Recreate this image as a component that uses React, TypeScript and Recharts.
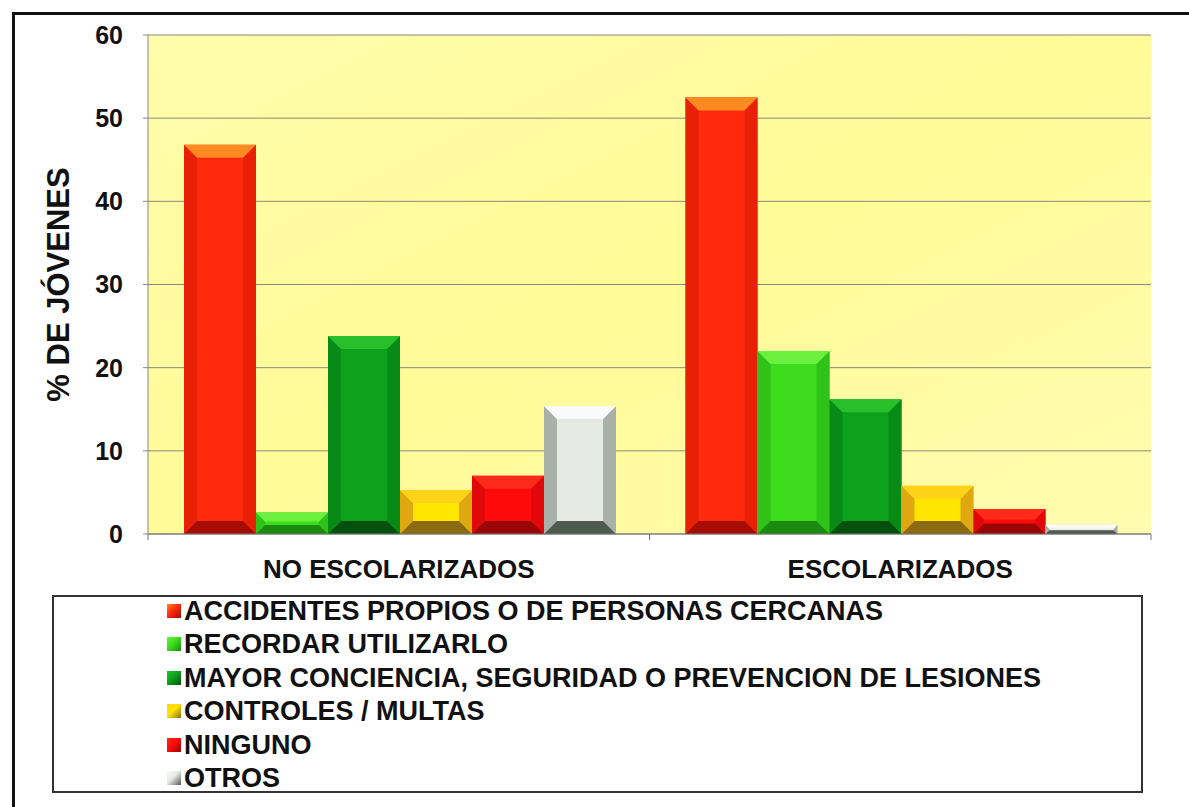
import React from "react";
import { BarChart, Bar, XAxis, YAxis, CartesianGrid } from "recharts";

const categories = ["NO ESCOLARIZADOS", "ESCOLARIZADOS"];
const accidentes = [46.8, 52.5];
const recordar = [2.6, 22.0];
const mayor = [23.8, 16.2];
const controles = [5.3, 5.8];
const ninguno = [7.0, 3.0];
const otros = [15.4, 1.1];
const yTicks = [0, 10, 20, 30, 40, 50, 60];

// base / top bevel / bottom bevel / sides
const series = [
  { key: "accidentes", name: "ACCIDENTES PROPIOS O DE PERSONAS CERCANAS", values: accidentes, base: "#ff2a0c", top: "#ff8a22", bottom: "#a40c04", side: "#e82006" },
  { key: "recordar", name: "RECORDAR UTILIZARLO", values: recordar, base: "#3ddc1e", top: "#6cf040", bottom: "#1c8a10", side: "#2fc218" },
  { key: "mayor", name: "MAYOR CONCIENCIA, SEGURIDAD O PREVENCION DE LESIONES", values: mayor, base: "#0ca21c", top: "#28c02a", bottom: "#04500c", side: "#088a16" },
  { key: "controles", name: "CONTROLES / MULTAS", values: controles, base: "#ffe600", top: "#ffd21a", bottom: "#8c6a12", side: "#e0a810" },
  { key: "ninguno", name: "NINGUNO", values: ninguno, base: "#ff0a0a", top: "#ff2a1a", bottom: "#9a0606", side: "#e00808" },
  { key: "otros", name: "OTROS", values: otros, base: "#e6e8e4", top: "#fafafa", bottom: "#4e5a4e", side: "#a8b0a8" },
];

const data = categories.map((c, i) => {
  const row: any = { cat: c };
  series.forEach((s) => (row[s.key] = s.values[i]));
  return row;
});

const font = "'Liberation Sans', Arial, sans-serif";

const makeBevel = (s: any) => (props: any) => {
  const { x, y, width, height } = props;
  if (!height || height <= 0) return null;
  const b = Math.min(13, height / 2.4, width / 4);
  return (
    <g>
      <rect x={x} y={y} width={width} height={height} fill={s.base} />
      <polygon points={`${x},${y} ${x + b},${y + b} ${x + b},${y + height - b} ${x},${y + height}`} fill={s.side} />
      <polygon points={`${x + width},${y} ${x + width - b},${y + b} ${x + width - b},${y + height - b} ${x + width},${y + height}`} fill={s.side} />
      <polygon points={`${x},${y} ${x + width},${y} ${x + width - b},${y + b} ${x + b},${y + b}`} fill={s.top} />
      <polygon points={`${x},${y + height} ${x + width},${y + height} ${x + width - b},${y + height - b} ${x + b},${y + height - b}`} fill={s.bottom} />
    </g>
  );
};

const YLabel = (props: any) => {
  const vb = props.viewBox || {};
  const cy = vb.y + vb.height / 2;
  return (
    <text
      x={58}
      y={cy}
      transform={`rotate(-90, 58, ${cy})`}
      textAnchor="middle"
      dominantBaseline="central"
      fontFamily={font}
      fontWeight="bold"
      fontSize={31}
      fill="#111"
    >
      % DE JÓVENES
    </text>
  );
};

// category label plus the boundary tick marks between categories
const CatTick = (props: any) => {
  const { x, y, payload, width } = props;
  const half = (width || 1003) / categories.length / 2;
  const axisY = y - 26;
  return (
    <g>
      <line x1={x - half} y1={axisY} x2={x - half} y2={axisY + 6} stroke="#777" />
      <line x1={x + half} y1={axisY} x2={x + half} y2={axisY + 6} stroke="#777" />
      <text
        x={x}
        y={y}
        dy="0.71em"
        textAnchor="middle"
        fontFamily={font}
        fontWeight="bold"
        fontSize={26}
        fill="#111"
      >
        {payload.value}
      </text>
    </g>
  );
};

export default function App() {
  return (
    <div style={{ position: "absolute", left: 0, top: 0, width: 1189, height: 807, background: "#fff", overflow: "hidden" }}>
      <div
        style={{
          position: "absolute",
          left: 12,
          top: 12,
          width: 1300,
          height: 900,
          borderLeft: "3px solid #111",
          borderTop: "3px solid #111",
        }}
      />
      <div style={{ position: "absolute", left: 0, top: 0 }}>
        <BarChart
          width={1189}
          height={600}
          data={data}
          margin={{ top: 35, right: 38, left: 48, bottom: 16 }}
          barCategoryGap={36}
          barGap={0}
        >
          <defs>
            <linearGradient id="plotBg" x1="0" y1="0" x2="1" y2="1">
              <stop offset="0%" stopColor="#fffcab" />
              <stop offset="50%" stopColor="#fffb98" />
              <stop offset="100%" stopColor="#fffcb0" />
            </linearGradient>
          </defs>
          <CartesianGrid vertical={false} stroke="#8a8a7a" fill="url(#plotBg)" />
          <XAxis
            dataKey="cat"
            height={50}
            axisLine={{ stroke: "#777" }}
            tickLine={false}
            tickSize={0}
            tickMargin={26}
            tick={<CatTick />}
          />
          <YAxis
            width={100}
            domain={[0, 60]}
            ticks={yTicks}
            interval={0}
            axisLine={{ stroke: "#888" }}
            tickLine={{ stroke: "#888" }}
            tickSize={5}
            tickMargin={20}
            tick={{ fontSize: 25, fontWeight: "bold", fill: "#111", fontFamily: font }}
            label={<YLabel />}
          />
          {series.map((s) => (
            <Bar
              key={s.key}
              dataKey={s.key}
              name={s.name}
              fill={s.base}
              shape={makeBevel(s)}
              isAnimationActive={false}
            />
          ))}
        </BarChart>
      </div>
      <div
        style={{
          position: "absolute",
          left: 52,
          top: 595,
          width: 1087,
          height: 194,
          border: "2px solid #333",
          fontFamily: font,
          fontWeight: "bold",
          fontSize: 27,
          color: "#111",
        }}
      >
        {series.map((s, i) => (
          <div
            key={s.key}
            style={{
              position: "absolute",
              left: 113,
              top: -1 + i * 33.4,
              height: 30,
              display: "flex",
              alignItems: "center",
              whiteSpace: "nowrap",
              lineHeight: "30px",
            }}
          >
            <span
              style={{
                display: "inline-block",
                width: 14,
                height: 14,
                marginRight: 3,
                background: `linear-gradient(135deg, ${s.top} 0%, ${s.base} 45%, ${s.bottom} 100%)`,
              }}
            />
            {s.name}
          </div>
        ))}
      </div>
    </div>
  );
}
